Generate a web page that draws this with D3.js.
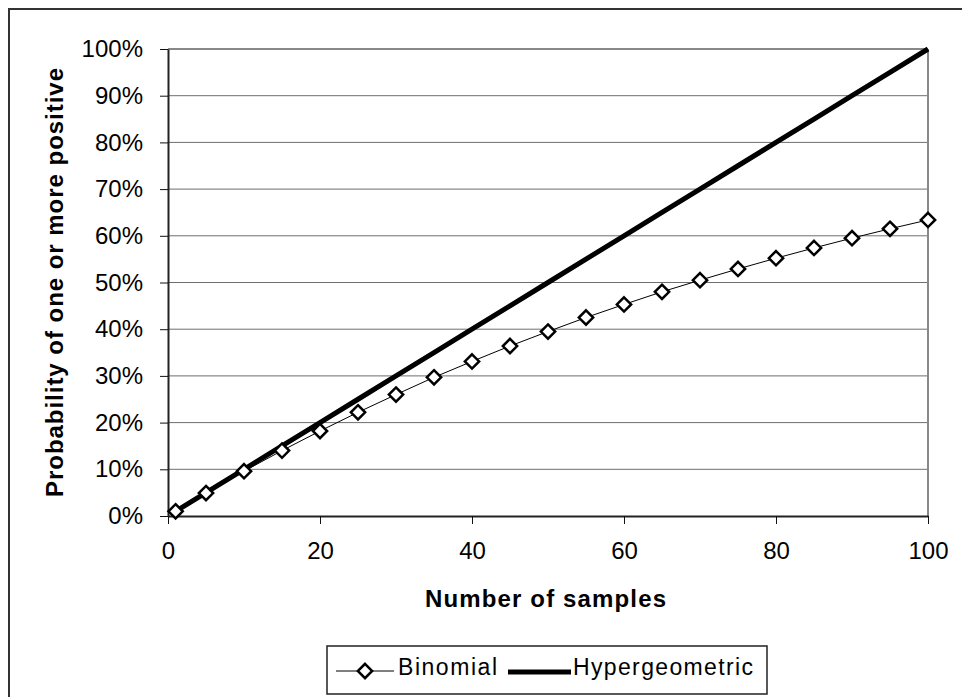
<!DOCTYPE html>
<html><head><meta charset="utf-8">
<script src="https://cdn.jsdelivr.net/npm/d3@7"></script>
<style>body{margin:0;background:#fff}svg{display:block;font-family:"Liberation Sans",Arial,sans-serif}</style>
</head><body>
<svg id="c" width="962" height="697"></svg>
<script>
const samples = [1,5,10,15,20,25,30,35,40,45,50,55,60,65,70,75,80,85,90,95,100];
const binomial = [0.010,0.049,0.096,0.140,0.182,0.222,0.260,0.297,0.331,0.364,0.395,0.425,0.453,0.480,0.505,0.529,0.552,0.574,0.595,0.615,0.634];
const hypergeometric = [0.01,0.05,0.10,0.15,0.20,0.25,0.30,0.35,0.40,0.45,0.50,0.55,0.60,0.65,0.70,0.75,0.80,0.85,0.90,0.95,1.00];
const xTicks = [0,20,40,60,80,100];
const yTicks = [0,0.1,0.2,0.3,0.4,0.5,0.6,0.7,0.8,0.9,1.0];
const seriesNames = ["Binomial","Hypergeometric"];

const svg = d3.select("#c");
// outer chart border
svg.append("rect").attr("x",9).attr("y",9).attr("width",970).attr("height",710)
  .attr("fill","none").attr("stroke","#333").attr("stroke-width",2);

const L=168,R=928,T=49,B=516;
const x = d3.scaleLinear().domain([0,100]).range([L,R]);
const y = d3.scaleLinear().domain([0,1]).range([B,T]);

// gridlines
svg.append("g").selectAll("line").data(yTicks.filter(d=>d>0&&d<1)).join("line")
  .attr("x1",L).attr("x2",R).attr("y1",d=>y(d)).attr("y2",d=>y(d))
  .attr("stroke","#6e6e6e").attr("stroke-width",1);
// plot frame top/right
svg.append("line").attr("x1",L).attr("x2",R).attr("y1",T).attr("y2",T).attr("stroke","#888").attr("stroke-width",2);
svg.append("line").attr("x1",R).attr("x2",R).attr("y1",T).attr("y2",B).attr("stroke","#888").attr("stroke-width",2);

// axes
const yAxis = d3.axisLeft(y).tickValues(yTicks).tickFormat(d3.format(".0%")).tickSizeInner(8).tickSizeOuter(0).tickPadding(17);
const gy = svg.append("g").attr("transform",`translate(${L},0)`).call(yAxis);
const xAxis = d3.axisBottom(x).tickValues(xTicks).tickSizeInner(8).tickSizeOuter(0).tickPadding(18);
const gx = svg.append("g").attr("transform",`translate(0,${B})`).call(xAxis);
[gx,gy].forEach(g=>{
  g.select(".domain").attr("stroke","#222").attr("stroke-width",2);
  g.selectAll(".tick line").attr("stroke","#111");
  g.selectAll("text").attr("font-size",24).attr("fill","#000").attr("font-family","Liberation Sans, Arial, sans-serif");
});

// lines
const line = d3.line().x((d,i)=>x(samples[i])).y(d=>y(d));
svg.append("path").datum(hypergeometric).attr("d",line).attr("fill","none").attr("stroke","#000").attr("stroke-width",5);
svg.append("path").datum(binomial).attr("d",line).attr("fill","none").attr("stroke","#000").attr("stroke-width",1);
const diamond = d3.symbol().type(d3.symbolDiamond2).size(130);
svg.append("g").selectAll("path").data(binomial).join("path")
  .attr("d",diamond).attr("transform",(d,i)=>`translate(${x(samples[i])},${y(d)})`)
  .attr("fill","#fff").attr("stroke","#000").attr("stroke-width",2.5);

// axis titles
svg.append("text").attr("x",425).attr("y",607)
  .attr("font-size",24).attr("font-weight","bold")
  .attr("textLength",241).attr("lengthAdjust","spacing").text("Number of samples");
svg.append("text").attr("transform",`translate(63,497) rotate(-90)`)
  .attr("font-size",24).attr("font-weight","bold")
  .attr("textLength",429).attr("lengthAdjust","spacing").text("Probability of one or more positive");

// legend
const lg = svg.append("g");
lg.append("rect").attr("x",327).attr("y",646).attr("width",440).attr("height",48)
  .attr("fill","#fff").attr("stroke","#222").attr("stroke-width",1.5);
const ly=671;
lg.append("line").attr("x1",336).attr("x2",394).attr("y1",ly).attr("y2",ly).attr("stroke","#000").attr("stroke-width",1);
lg.append("path").attr("d",diamond).attr("transform",`translate(365,${ly})`).attr("fill","#fff").attr("stroke","#000").attr("stroke-width",2.5);
lg.append("text").attr("x",398).attr("y",675).attr("font-size",23)
  .attr("textLength",99).attr("lengthAdjust","spacing").text(seriesNames[0]);
lg.append("line").attr("x1",508).attr("x2",571).attr("y1",ly+1).attr("y2",ly+1).attr("stroke","#000").attr("stroke-width",5);
lg.append("text").attr("x",573).attr("y",675).attr("font-size",23)
  .attr("textLength",180).attr("lengthAdjust","spacing").text(seriesNames[1]);
</script>
</body></html>
